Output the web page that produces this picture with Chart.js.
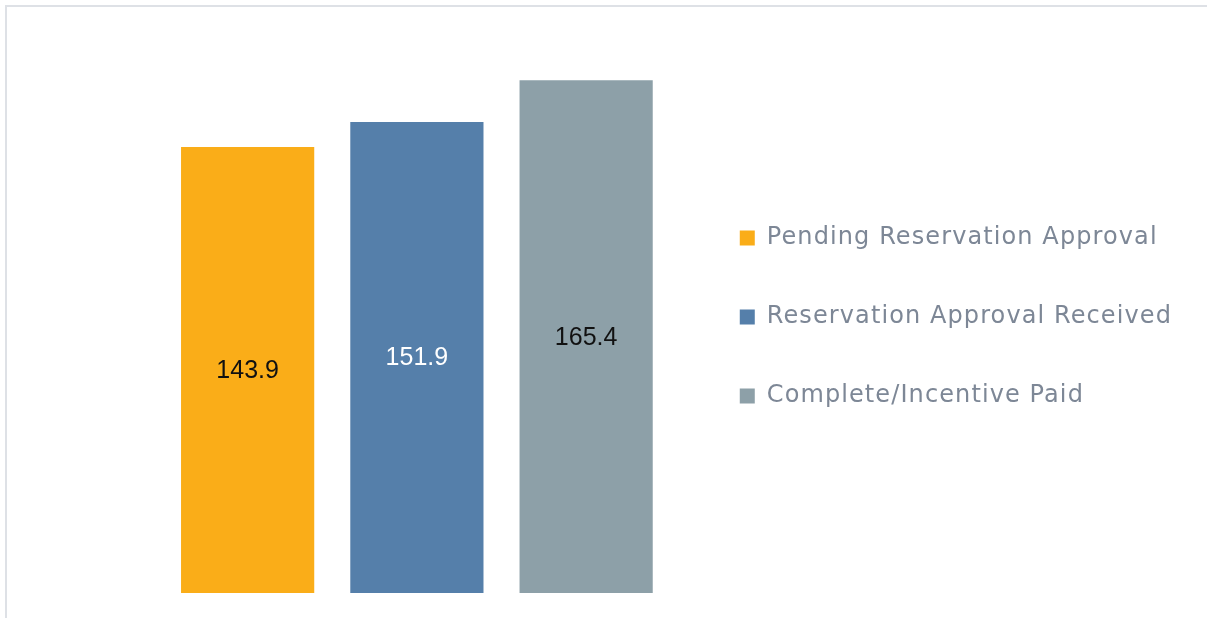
<!DOCTYPE html>
<html>
<head>
<meta charset="utf-8">
<script src="https://cdn.jsdelivr.net/npm/chart.js@4.4.1/dist/chart.umd.min.js"></script>
<style>
  html, body { margin: 0; padding: 0; background: #ffffff; }
  #wrap { position: relative; width: 1207px; height: 618px; overflow: hidden; }
  #frame { position: absolute; left: 5px; top: 5px; width: 1202px; height: 613px;
           border-left: 2px solid #dee1e6; border-top: 2px solid #dee1e6; box-sizing: border-box; }
  #c { position: absolute; left: 0; top: 0; }
</style>
</head>
<body>
<div id="wrap">
  <div id="frame"></div>
  <canvas id="c" width="1207" height="618"></canvas>
</div>
<script>
const categories = [''];
const seriesNames = ['Pending Reservation Approval', 'Reservation Approval Received', 'Complete/Incentive Paid'];
const seriesValues = [143.9, 151.9, 165.4];
const seriesColors = ['#faad18', '#557faa', '#8da0a8'];
const labelColors = ['#111111', '#ffffff', '#111111'];

const datasets = seriesNames.map((name, i) => ({
  label: name,
  data: [seriesValues[i]],
  backgroundColor: seriesColors[i],
  borderWidth: 0,
  barPercentage: 0.787,
  categoryPercentage: 0.9477
}));

const spacing = {
  id: 'spacing',
  beforeInit(chart) { chart.ctx.letterSpacing = '1.1px'; },
  beforeUpdate(chart) { chart.ctx.letterSpacing = '1.1px'; },
  beforeDraw(chart) { chart.ctx.letterSpacing = '1.1px'; }
};

const valueLabels = {
  id: 'valueLabels',
  afterDatasetsDraw(chart) {
    const ctx = chart.ctx;
    ctx.save();
    ctx.letterSpacing = '0px';
    ctx.font = '25px "Liberation Sans", Arial, sans-serif';
    ctx.textAlign = 'center';
    ctx.textBaseline = 'middle';
    chart.data.datasets.forEach((ds, i) => {
      const meta = chart.getDatasetMeta(i);
      meta.data.forEach((bar, j) => {
        const p = bar.getProps(['x', 'y', 'base'], true);
        ctx.fillStyle = labelColors[i];
        ctx.fillText(ds.data[j].toFixed(1), p.x, (p.y + p.base) / 2 + 1);
      });
    });
    ctx.restore();
  }
};

new Chart(document.getElementById('c'), {
  type: 'bar',
  data: { labels: categories, datasets },
  options: {
    responsive: false,
    animation: false,
    layout: { padding: { left: 149, top: 35, bottom: 25, right: 25 } },
    scales: {
      x: { display: false },
      y: { display: false, min: 0, max: 180 }
    },
    plugins: {
      tooltip: { enabled: false },
      legend: {
        position: 'right',
        align: 'center',
        title: { display: true, text: ' ', padding: 0, font: { size: 5, lineHeight: 1.2 } },
        labels: {
          boxWidth: 15,
          boxHeight: 15,
          padding: 55,
          color: '#7d8796',
          font: { family: 'DejaVu Sans', size: 24 }
        }
      }
    }
  },
  plugins: [spacing, valueLabels]
});
</script>
</body>
</html>
